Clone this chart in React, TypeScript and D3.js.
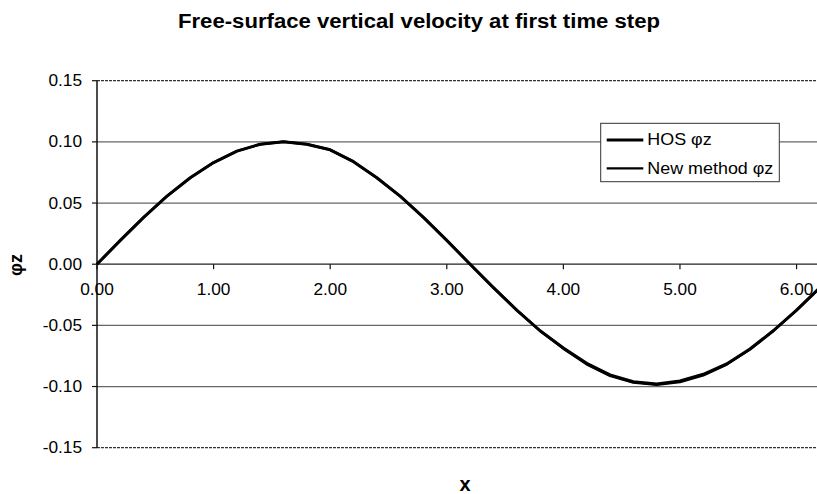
import React from "react";
import * as d3 from "d3";

const xValues = [0, 0.2, 0.4, 0.6, 0.8, 1.0, 1.2, 1.4, 1.6, 1.8, 2.0, 2.2, 2.4, 2.6, 2.8, 3.0, 3.2, 3.4, 3.6, 3.8, 4.0, 4.2, 4.4, 4.6, 4.8, 5.0, 5.2, 5.4, 5.6, 5.8, 6.0, 6.2, 6.4];
const hosPhiZ = [0, 0.0195, 0.0383, 0.0556, 0.0707, 0.0831, 0.0924, 0.0981, 0.1, 0.0981, 0.0935, 0.0838, 0.0707, 0.0556, 0.0383, 0.0195, 0, -0.0191, -0.0375, -0.0544, -0.0685, -0.081, -0.0905, -0.0961, -0.098, -0.0955, -0.09, -0.0815, -0.0693, -0.0544, -0.0375, -0.0191, 0];
const newPhiZ = [0, 0.0195, 0.0383, 0.0556, 0.0707, 0.0831, 0.0924, 0.0981, 0.1, 0.0981, 0.0935, 0.0838, 0.0707, 0.0556, 0.0383, 0.0195, 0, -0.0191, -0.0375, -0.0544, -0.069, -0.0818, -0.0912, -0.0968, -0.0985, -0.0963, -0.0908, -0.082, -0.0697, -0.0546, -0.0377, -0.0192, 0];
const xTicks = [0, 1, 2, 3, 4, 5, 6];
const yTicks = [-0.15, -0.1, -0.05, 0, 0.05, 0.1, 0.15];
const seriesNames = ["HOS \u03c6z", "New method \u03c6z"];

const W = 817;
const H = 494;
const font = "'Liberation Sans', Arial, sans-serif";
const fmt = (v: number) => d3.format(".2f")(v).replace("\u2212", "-");

export default function App() {
  const x = d3.scaleLinear().domain([0, 6.4]).range([97, 843.2]);
  const y = d3.scaleLinear().domain([-0.15, 0.15]).range([447.7, 80.7]);
  const line = d3
    .line<number>()
    .x((_, i) => x(xValues[i]))
    .y((d) => y(d))
    .curve(d3.curveLinear);

  const left = x(0);
  const right = x(6.4);

  return (
    <svg
      width={W}
      height={H}
      style={{ position: "absolute", left: 0, top: 0, background: "#fff" }}
      fontFamily={font}
    >
      <rect x={0} y={0} width={W} height={H} fill="#fff" />
      <text
        x={419}
        y={27.5}
        textAnchor="middle"
        fontSize={19.5}
        fontWeight="bold"
        fill="#000"
        textLength={482}
        lengthAdjust="spacingAndGlyphs"
      >
        Free-surface vertical velocity at first time step
      </text>

      {/* gridlines */}
      {yTicks.map((t) => (
        <line
          key={"g" + t}
          x1={left}
          x2={right}
          y1={y(t)}
          y2={y(t)}
          stroke={t === 0 ? "#222" : Math.abs(t) === 0.15 ? "#333" : "#666"}
          strokeWidth={1.2}
          strokeDasharray={Math.abs(t) === 0.15 ? "3 1" : undefined}
        />
      ))}
      {/* y axis */}
      <line x1={left} x2={left} y1={y(0.15)} y2={y(-0.15)} stroke="#111" strokeWidth={1.5} />
      {yTicks.map((t) => (
        <g key={"yt" + t}>
          <line x1={left - 5} x2={left} y1={y(t)} y2={y(t)} stroke="#111" strokeWidth={1.2} />
          <text
            transform={`translate(82,${y(t) + 5.5}) scale(1.08,1)`}
            textAnchor="end"
            fontSize={16}
            fill="#000"
          >
            {fmt(t)}
          </text>
        </g>
      ))}
      {/* x ticks on zero line */}
      {xTicks.map((t) => (
        <g key={"xt" + t}>
          <line x1={x(t)} x2={x(t)} y1={y(0)} y2={y(0) + 5} stroke="#111" strokeWidth={1.2} />
          <text
            transform={`translate(${x(t)},295) scale(1.08,1)`}
            textAnchor="middle"
            fontSize={16}
            fill="#000"
          >
            {fmt(t)}
          </text>
        </g>
      ))}

      {/* series */}
      <path d={line(hosPhiZ) || ""} fill="none" stroke="#000" strokeWidth={3} strokeLinejoin="round" />
      <path d={line(newPhiZ) || ""} fill="none" stroke="#000" strokeWidth={2.5} strokeLinejoin="round" />

      {/* legend */}
      <rect x={600.7} y={123.3} width={178.6} height={58.4} fill="#fff" stroke="#333" strokeWidth={1} />
      {seriesNames.map((n, i) => (
        <g key={n}>
          <line x1={606.7} x2={643.3} y1={140 + i * 28.3} y2={140 + i * 28.3} stroke="#000" strokeWidth={i === 0 ? 3 : 2.2} />
          <text
            transform={`translate(647.3,${145.3 + i * 28.3}) scale(1.12,1)`}
            fontSize={16}
            fill="#000"
          >
            {n}
          </text>
        </g>
      ))}

      {/* axis titles */}
      <text x={465} y={491} textAnchor="middle" fontSize={20} fontWeight="bold" fill="#000">
        x
      </text>
      <text
        transform={`translate(22,265) rotate(-90)`}
        textAnchor="middle"
        fontSize={18}
        fontWeight="bold"
        fill="#000"
      >
        {"\u03c6z"}
      </text>
    </svg>
  );
}
